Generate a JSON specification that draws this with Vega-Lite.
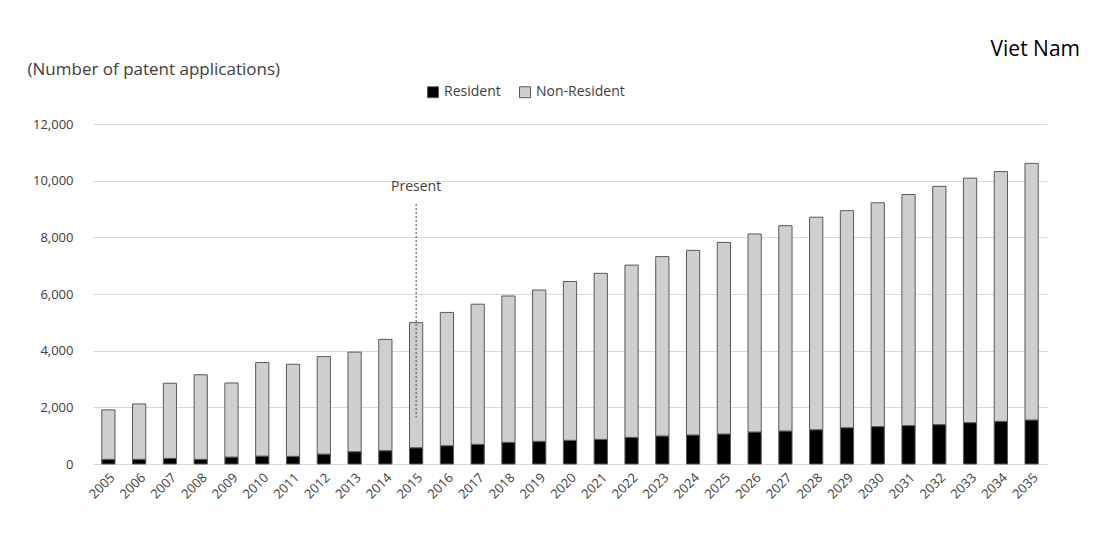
{
  "$schema": "https://vega.github.io/schema/vega-lite/v6.json",
  "width": 954,
  "height": 340,
  "autosize": {"type": "none"},
  "padding": {"left": 93, "top": 124, "right": 49, "bottom": 77},
  "background": "white",
  "config": {
    "view": {"stroke": null},
    "font": "Open Sans, Liberation Sans, sans-serif"
  },
  "title": {
    "text": "Viet Nam",
    "anchor": "end",
    "frame": "group",
    "orient": "top",
    "dx": 33,
    "dy": 6,
    "offset": 6,
    "fontSize": 21,
    "fontWeight": "normal",
    "color": "#000000",
    "font": "Open Sans, Liberation Sans, sans-serif"
  },
  "datasets": {
    "bars": [
      {"year": "2005", "type": "Resident", "value": 165}, {"year": "2005", "type": "Non-Resident", "value": 1745},
      {"year": "2006", "type": "Resident", "value": 165}, {"year": "2006", "type": "Non-Resident", "value": 1955},
      {"year": "2007", "type": "Resident", "value": 200}, {"year": "2007", "type": "Non-Resident", "value": 2650},
      {"year": "2008", "type": "Resident", "value": 165}, {"year": "2008", "type": "Non-Resident", "value": 2985},
      {"year": "2009", "type": "Resident", "value": 245}, {"year": "2009", "type": "Non-Resident", "value": 2615},
      {"year": "2010", "type": "Resident", "value": 280}, {"year": "2010", "type": "Non-Resident", "value": 3300},
      {"year": "2011", "type": "Resident", "value": 270}, {"year": "2011", "type": "Non-Resident", "value": 3250},
      {"year": "2012", "type": "Resident", "value": 350}, {"year": "2012", "type": "Non-Resident", "value": 3440},
      {"year": "2013", "type": "Resident", "value": 435}, {"year": "2013", "type": "Non-Resident", "value": 3515},
      {"year": "2014", "type": "Resident", "value": 470}, {"year": "2014", "type": "Non-Resident", "value": 3930},
      {"year": "2015", "type": "Resident", "value": 575}, {"year": "2015", "type": "Non-Resident", "value": 4415},
      {"year": "2016", "type": "Resident", "value": 645}, {"year": "2016", "type": "Non-Resident", "value": 4705},
      {"year": "2017", "type": "Resident", "value": 695}, {"year": "2017", "type": "Non-Resident", "value": 4945},
      {"year": "2018", "type": "Resident", "value": 765}, {"year": "2018", "type": "Non-Resident", "value": 5165},
      {"year": "2019", "type": "Resident", "value": 800}, {"year": "2019", "type": "Non-Resident", "value": 5340},
      {"year": "2020", "type": "Resident", "value": 835}, {"year": "2020", "type": "Non-Resident", "value": 5605},
      {"year": "2021", "type": "Resident", "value": 870}, {"year": "2021", "type": "Non-Resident", "value": 5860},
      {"year": "2022", "type": "Resident", "value": 940}, {"year": "2022", "type": "Non-Resident", "value": 6080},
      {"year": "2023", "type": "Resident", "value": 990}, {"year": "2023", "type": "Non-Resident", "value": 6330},
      {"year": "2024", "type": "Resident", "value": 1025}, {"year": "2024", "type": "Non-Resident", "value": 6515},
      {"year": "2025", "type": "Resident", "value": 1060}, {"year": "2025", "type": "Non-Resident", "value": 6760},
      {"year": "2026", "type": "Resident", "value": 1130}, {"year": "2026", "type": "Non-Resident", "value": 6990},
      {"year": "2027", "type": "Resident", "value": 1165}, {"year": "2027", "type": "Non-Resident", "value": 7245},
      {"year": "2028", "type": "Resident", "value": 1210}, {"year": "2028", "type": "Non-Resident", "value": 7500},
      {"year": "2029", "type": "Resident", "value": 1280}, {"year": "2029", "type": "Non-Resident", "value": 7660},
      {"year": "2030", "type": "Resident", "value": 1320}, {"year": "2030", "type": "Non-Resident", "value": 7900},
      {"year": "2031", "type": "Resident", "value": 1355}, {"year": "2031", "type": "Non-Resident", "value": 8155},
      {"year": "2032", "type": "Resident", "value": 1390}, {"year": "2032", "type": "Non-Resident", "value": 8410},
      {"year": "2033", "type": "Resident", "value": 1460}, {"year": "2033", "type": "Non-Resident", "value": 8630},
      {"year": "2034", "type": "Resident", "value": 1505}, {"year": "2034", "type": "Non-Resident", "value": 8815},
      {"year": "2035", "type": "Resident", "value": 1555}, {"year": "2035", "type": "Non-Resident", "value": 9055}
    ],
    "present": [
      {"year": "2015", "label": "Present", "lineTop": 9180, "lineBottom": 1650, "labelY": 9780}
    ]
  },
  "layer": [
    {
      "data": {"name": "bars"},
      "mark": {"type": "bar", "stroke": "#595959", "strokeWidth": 1},
      "encoding": {
        "x": {
          "field": "year",
          "type": "nominal",
          "sort": null,
          "scale": {"paddingInner": 0.57, "paddingOuter": 0.285},
          "axis": {
            "title": null,
            "labelAngle": -45,
            "labelFontSize": 13,
            "labelColor": "#404040",
            "labelPadding": 7,
            "ticks": false,
            "domain": false,
            "grid": false
          }
        },
        "y": {
          "field": "value",
          "type": "quantitative",
          "stack": "zero",
          "scale": {"domain": [0, 12000], "nice": false},
          "axis": {
            "title": "(Number of patent applications)",
            "titleAngle": 0,
            "titleAlign": "left",
            "titleBaseline": "middle",
            "titleX": -66,
            "titleY": -55,
            "titleFontSize": 17,
            "titleFontWeight": "normal",
            "titleColor": "#404040",
            "values": [0, 2000, 4000, 6000, 8000, 10000, 12000],
            "format": ",.0f",
            "labelFontSize": 13,
            "labelColor": "#404040",
            "labelPadding": 20,
            "ticks": false,
            "domain": false,
            "grid": true,
            "gridColor": "#d9d9d9",
            "gridWidth": 1
          }
        },
        "color": {
          "field": "type",
          "type": "nominal",
          "scale": {"domain": ["Resident", "Non-Resident"], "range": ["#000000", "#d0cece"]},
          "legend": {
            "title": null,
            "orient": "none",
            "direction": "horizontal",
            "legendX": 333,
            "legendY": -39,
            "symbolType": "square",
            "symbolSize": 120,
            "symbolStrokeColor": "#595959",
            "symbolStrokeWidth": 1,
            "labelFontSize": 14,
            "labelColor": "#404040",
            "labelOffset": 4,
            "columnPadding": 16
          }
        },
        "order": {"field": "type", "sort": "descending"}
      }
    },
    {
      "data": {"name": "present"},
      "mark": {"type": "rule", "strokeDash": [2, 2], "color": "#404040", "strokeWidth": 1},
      "encoding": {
        "x": {"field": "year", "type": "nominal"},
        "y": {"field": "lineTop", "type": "quantitative"},
        "y2": {"field": "lineBottom"}
      }
    },
    {
      "data": {"name": "present"},
      "mark": {"type": "text", "fontSize": 14, "color": "#404040", "baseline": "middle", "align": "center"},
      "encoding": {
        "x": {"field": "year", "type": "nominal"},
        "y": {"field": "labelY", "type": "quantitative"},
        "text": {"field": "label"}
      }
    }
  ]
}
